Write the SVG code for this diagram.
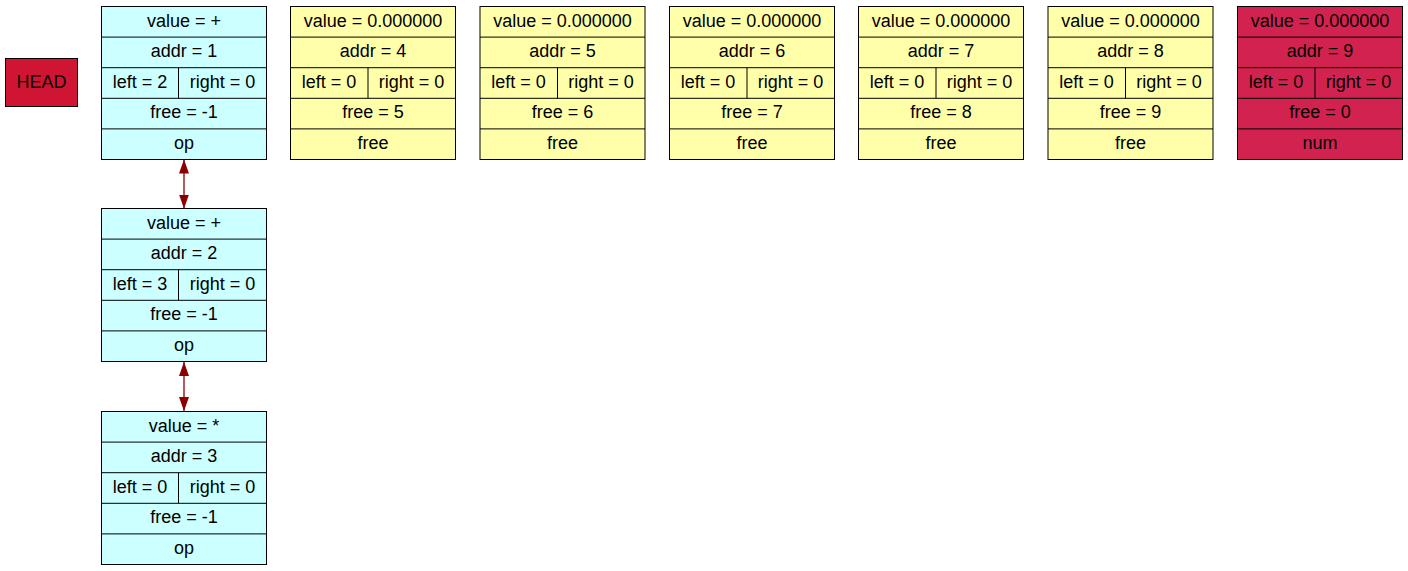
<svg xmlns="http://www.w3.org/2000/svg" width="1408" height="571" viewBox="0 0 1408 571">
  <style>
    .box { stroke: #000; stroke-width: 1; }
    .op { fill: #ccffff; }
    .fr { fill: #ffffaa; }
    .nm { fill: #d22350; }
    .ln { stroke: #000; stroke-width: 1; fill: none; }
    text { font-family: "Liberation Sans", Arial, sans-serif; font-size: 18px; fill: #000; text-anchor: middle; }
    .edge { stroke: #8b0000; stroke-width: 1.3; fill: none; }
  </style>
  <defs>
    <marker id="arr" viewBox="0 0 14 10" refX="14" refY="5" markerWidth="14" markerHeight="10" markerUnits="userSpaceOnUse" orient="auto-start-reverse">
      <path d="M0,0 L14,5 L0,10 Z" fill="#8b0000"/>
    </marker>
  </defs>

  <rect width="1408" height="571" fill="#fff"/>

  <g id="head">
    <rect x="5.5" y="58.5" width="72" height="48" fill="#d01433" class="box"/>
    <text x="41.5" y="88">HEAD</text>
  </g>

  <!-- operator nodes -->
  <g id="node1" transform="translate(101.5,6.5)">
    <rect width="165" height="153" class="box op"/>
    <path class="ln" d="M0,30.6H165M0,61.2H165M0,91.8H165M0,122.4H165M77,61.2V91.8"/>
    <text x="82.5" y="20">value = +</text>
    <text x="82.5" y="50.5">addr = 1</text>
    <text x="38.5" y="81">left = 2</text>
    <text x="121" y="81">right = 0</text>
    <text x="82.5" y="111.5">free = -1</text>
    <text x="82.5" y="142">op</text>
  </g>

  <g id="node2" transform="translate(101.5,208.5)">
    <rect width="165" height="153" class="box op"/>
    <path class="ln" d="M0,30.6H165M0,61.2H165M0,91.8H165M0,122.4H165M77,61.2V91.8"/>
    <text x="82.5" y="20">value = +</text>
    <text x="82.5" y="50.5">addr = 2</text>
    <text x="38.5" y="81">left = 3</text>
    <text x="121" y="81">right = 0</text>
    <text x="82.5" y="111.5">free = -1</text>
    <text x="82.5" y="142">op</text>
  </g>

  <g id="node3" transform="translate(101.5,411.5)">
    <rect width="165" height="153" class="box op"/>
    <path class="ln" d="M0,30.6H165M0,61.2H165M0,91.8H165M0,122.4H165M77,61.2V91.8"/>
    <text x="82.5" y="20">value = *</text>
    <text x="82.5" y="50.5">addr = 3</text>
    <text x="38.5" y="81">left = 0</text>
    <text x="121" y="81">right = 0</text>
    <text x="82.5" y="111.5">free = -1</text>
    <text x="82.5" y="142">op</text>
  </g>

  <!-- free list nodes -->
  <g id="node4" transform="translate(290.5,6.5)">
    <rect width="165" height="153" class="box fr"/>
    <path class="ln" d="M0,30.6H165M0,61.2H165M0,91.8H165M0,122.4H165M77.5,61.2V91.8"/>
    <text x="82.5" y="20">value = 0.000000</text>
    <text x="82.5" y="50.5">addr = 4</text>
    <text x="38.5" y="81">left = 0</text>
    <text x="121" y="81">right = 0</text>
    <text x="82.5" y="111.5">free = 5</text>
    <text x="82.5" y="142">free</text>
  </g>

  <g id="node5" transform="translate(480,6.5)">
    <rect width="165" height="153" class="box fr"/>
    <path class="ln" d="M0,30.6H165M0,61.2H165M0,91.8H165M0,122.4H165M77.5,61.2V91.8"/>
    <text x="82.5" y="20">value = 0.000000</text>
    <text x="82.5" y="50.5">addr = 5</text>
    <text x="38.5" y="81">left = 0</text>
    <text x="121" y="81">right = 0</text>
    <text x="82.5" y="111.5">free = 6</text>
    <text x="82.5" y="142">free</text>
  </g>

  <g id="node6" transform="translate(669.5,6.5)">
    <rect width="165" height="153" class="box fr"/>
    <path class="ln" d="M0,30.6H165M0,61.2H165M0,91.8H165M0,122.4H165M77.5,61.2V91.8"/>
    <text x="82.5" y="20">value = 0.000000</text>
    <text x="82.5" y="50.5">addr = 6</text>
    <text x="38.5" y="81">left = 0</text>
    <text x="121" y="81">right = 0</text>
    <text x="82.5" y="111.5">free = 7</text>
    <text x="82.5" y="142">free</text>
  </g>

  <g id="node7" transform="translate(858.5,6.5)">
    <rect width="165" height="153" class="box fr"/>
    <path class="ln" d="M0,30.6H165M0,61.2H165M0,91.8H165M0,122.4H165M77.5,61.2V91.8"/>
    <text x="82.5" y="20">value = 0.000000</text>
    <text x="82.5" y="50.5">addr = 7</text>
    <text x="38.5" y="81">left = 0</text>
    <text x="121" y="81">right = 0</text>
    <text x="82.5" y="111.5">free = 8</text>
    <text x="82.5" y="142">free</text>
  </g>

  <g id="node8" transform="translate(1048,6.5)">
    <rect width="165" height="153" class="box fr"/>
    <path class="ln" d="M0,30.6H165M0,61.2H165M0,91.8H165M0,122.4H165M77.5,61.2V91.8"/>
    <text x="82.5" y="20">value = 0.000000</text>
    <text x="82.5" y="50.5">addr = 8</text>
    <text x="38.5" y="81">left = 0</text>
    <text x="121" y="81">right = 0</text>
    <text x="82.5" y="111.5">free = 9</text>
    <text x="82.5" y="142">free</text>
  </g>

  <!-- number node -->
  <g id="node9" transform="translate(1237.5,6.5)">
    <rect width="165" height="153" class="box nm"/>
    <path class="ln" d="M0,30.6H165M0,61.2H165M0,91.8H165M0,122.4H165M77.5,61.2V91.8"/>
    <text x="82.5" y="20">value = 0.000000</text>
    <text x="82.5" y="50.5">addr = 9</text>
    <text x="38.5" y="81">left = 0</text>
    <text x="121" y="81">right = 0</text>
    <text x="82.5" y="111.5">free = 0</text>
    <text x="82.5" y="142">num</text>
  </g>

  <g id="edges">
    <path class="edge" d="M184,159.5 V208.5" marker-start="url(#arr)" marker-end="url(#arr)"/>
    <path class="edge" d="M184,362 V411" marker-start="url(#arr)" marker-end="url(#arr)"/>
  </g>
</svg>
